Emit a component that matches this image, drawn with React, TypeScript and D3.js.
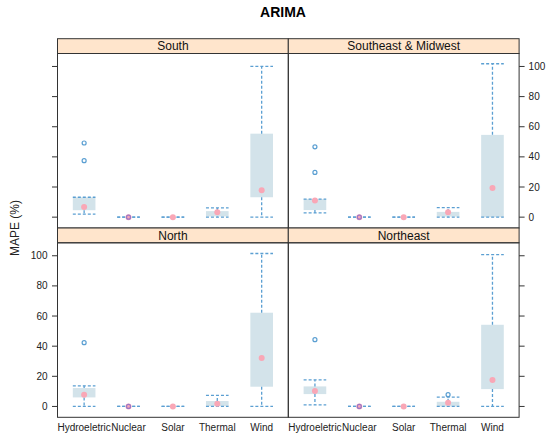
import * as d3 from 'd3'

const categories = ['Hydroeletric', 'Nuclear', 'Solar', 'Thermal', 'Wind']
const panelNames = ['South', 'Southeast & Midwest', 'North', 'Northeast']

// five-number summaries per panel, one value per category
const lowerWhisker = [
  [2, 0, 0, 0, 0],
  [2.8, 0, 0, 0, 0],
  [0, 0, 0, 0, 0],
  [1.1, 0, 0, 0, 0],
]
const q1 = [
  [4.6, 0, 0, 0.5, 13.2],
  [4.7, 0, 0, 0.4, 0],
  [6, 0, 0, 0.2, 13.1],
  [8.2, 0, 0, 0, 11.5],
]
const medians = [
  [6.8, 0, 0, 3.3, 17.9],
  [11, 0, 0, 3.3, 19.3],
  [7.8, 0, 0, 1.8, 32.1],
  [10.2, 0, 0, 2.5, 17.5],
]
const q3 = [
  [13.2, 0, 0, 4, 55.4],
  [12, 0, 0, 3.5, 54.6],
  [12.2, 0, 0, 3.6, 62.2],
  [13.3, 0, 0, 3.1, 54.2],
]
const upperWhisker = [
  [13.2, 0, 0, 6.2, 100],
  [12, 0, 0, 6.3, 101.8],
  [13.7, 0, 0, 7.3, 101.5],
  [17.7, 0, 0, 6.2, 100.7],
]
const outliers = [
  [[49.2, 37.5], [0], [], [], []],
  [[46.7, 29.7], [0], [], [], []],
  [[42.3], [0], [], [], []],
  [[44.3], [0], [], [7.8], []],
]
const yTicks = [0, 20, 40, 60, 80, 100]

const W = 550
const H = 441
const colX = [57.5, 288.3]
const panelW = 230.8
const stripH = 14.8
const panelH = 174.5
const rowTop = [38.7, 228]

const boxFill = '#d3e3ea'
const whiskerCol = '#5b9fd2'
const medianCol = '#f9a7b6'
const frameCol = '#333333'

function Panel({ idx }: { idx: number }) {
  const col = idx % 2
  const row = Math.floor(idx / 2)
  const x0 = colX[col]
  const top = rowTop[row]
  const py0 = top + stripH
  const x = d3.scalePoint<string>().domain(categories).range([x0, x0 + panelW]).padding(0.6)
  const y = d3.scaleLinear().domain([-7.2, 108.6]).range([py0 + panelH, py0])
  const bw = x.step() * 0.51
  const font = 'Liberation Sans, Arial, sans-serif'

  return (
    <g>
      <rect x={x0} y={top} width={panelW} height={stripH} fill="#ffe5cc" stroke={frameCol} strokeWidth={1} />
      <text x={x0 + panelW / 2} y={top + stripH / 2} dy="0.36em" textAnchor="middle" fontSize={12} fontFamily={font} fill="#111">
        {panelNames[idx]}
      </text>
      <rect x={x0} y={py0} width={panelW} height={panelH} fill="none" stroke={frameCol} strokeWidth={1} />
      {categories.map((c, i) => {
        const cx = x(c) as number
        const yq1 = y(q1[idx][i])
        const yq3 = y(q3[idx][i])
        const ylo = y(lowerWhisker[idx][i])
        const yhi = y(upperWhisker[idx][i])
        return (
          <g key={c}>
            {q3[idx][i] > q1[idx][i] && (
              <rect x={cx - bw / 2} y={yq3} width={bw} height={yq1 - yq3} fill={boxFill} />
            )}
            <line x1={cx} x2={cx} y1={yq3} y2={yhi} stroke={whiskerCol} strokeWidth={1.3} strokeDasharray="3,2" />
            <line x1={cx} x2={cx} y1={yq1} y2={ylo} stroke={whiskerCol} strokeWidth={1.3} strokeDasharray="3,2" />
            <line x1={cx - bw / 2} x2={cx + bw / 2} y1={yhi} y2={yhi} stroke={whiskerCol} strokeWidth={1.3} strokeDasharray="3,2" />
            <line x1={cx - bw / 2} x2={cx + bw / 2} y1={ylo} y2={ylo} stroke={whiskerCol} strokeWidth={1.3} strokeDasharray="3,2" />
            <circle cx={cx} cy={y(medians[idx][i])} r={3} fill={medianCol} />
            {outliers[idx][i].map((v, k) => (
              <circle
                key={k}
                cx={cx}
                cy={y(v)}
                r={2}
                fill="none"
                stroke={v === medians[idx][i] ? '#9a78c8' : whiskerCol}
                strokeWidth={1.2}
              />
            ))}
          </g>
        )
      })}
      {/* left axis on left column, right axis on right column */}
      {yTicks.map(t => {
        const ty = y(t)
        if (col === 0) {
          return (
            <g key={t}>
              <line x1={x0 - 5.5} x2={x0} y1={ty} y2={ty} stroke={frameCol} />
              {row === 1 && (
                <text x={x0 - 10} y={ty} dy="0.35em" textAnchor="end" fontSize={10} fontFamily={font} fill="#222">{t}</text>
              )}
            </g>
          )
        }
        return (
          <g key={t}>
            <line x1={x0 + panelW} x2={x0 + panelW + 5.5} y1={ty} y2={ty} stroke={frameCol} />
            {row === 0 && (
              <text x={x0 + panelW + 9.5} y={ty} dy="0.35em" textAnchor="start" fontSize={10} fontFamily={font} fill="#222">{t}</text>
            )}
          </g>
        )
      })}
      {row === 1 && categories.map(c => (
        <text key={c} x={x(c) as number} y={py0 + panelH + 14} textAnchor="middle" fontSize={10} fontFamily={font} fill="#222">{c}</text>
      ))}
    </g>
  )
}

export default function App() {
  return (
    <svg width={W} height={H} style={{ position: 'absolute', left: 0, top: 0, background: '#fff' }}>
      <rect width={W} height={H} fill="#fff" />
      <text x={283} y={17} textAnchor="middle" fontSize={14} fontWeight="bold" fontFamily="Liberation Sans, Arial, sans-serif">ARIMA</text>
      <text
        transform={`translate(19,228) rotate(-90)`}
        textAnchor="middle"
        fontSize={12}
        fontFamily="Liberation Sans, Arial, sans-serif"
        fill="#222"
      >
        MAPE (%)
      </text>
      {panelNames.map((p, i) => <Panel key={p} idx={i} />)}
    </svg>
  )
}
